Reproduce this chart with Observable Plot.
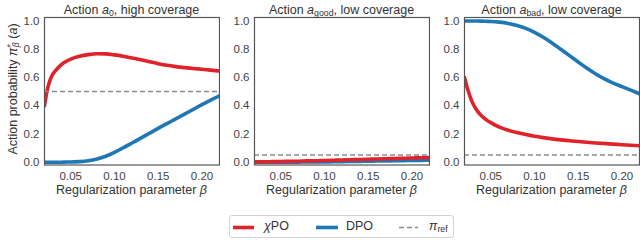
<!DOCTYPE html>
<html><head><meta charset="utf-8">
<script src="https://cdn.jsdelivr.net/npm/d3@7"></script>
<script src="https://cdn.jsdelivr.net/npm/@observablehq/plot@0.6"></script>
<style>
body{margin:0;background:#fff;}
#root{position:relative;width:640px;height:240px;font-family:"Liberation Sans",Arial,sans-serif;color:#333;overflow:hidden;}
.title{position:absolute;top:3px;width:175px;text-align:center;font-size:12.5px;line-height:14px;color:#333;white-space:nowrap;}
.xlab{position:absolute;top:184px;width:175px;text-align:center;font-size:12.5px;line-height:13px;color:#333;white-space:nowrap;}
.plot{position:absolute;top:0;}
sub{font-size:70%;vertical-align:-0.25em;line-height:0;}
sup{font-size:70%;vertical-align:0.5em;line-height:0;}
#ylab{position:absolute;left:-62px;top:82px;width:150px;text-align:center;font-size:12.5px;line-height:14px;transform:rotate(-90deg);white-space:nowrap;color:#333;}
#legend{position:absolute;left:229px;top:215px;width:225px;height:23px;border:1px solid #d4d4d4;border-radius:3px;box-sizing:border-box;font-size:12.5px;color:#333;}
#legend span{position:absolute;top:3px;line-height:14px;}
#legend svg{position:absolute;top:0;left:0;}
</style></head>
<body>
<div id="root"></div>
<script>
const beta = [0.02,0.0225,0.025,0.0275,0.03,0.035,0.04,0.045,0.05,0.06,0.07,0.08,0.09,0.10,0.11,0.12,0.13,0.14,0.15,0.16,0.17,0.18,0.19,0.20,0.21,0.22];
const chiHigh = [0.40,0.49,0.555,0.60,0.628,0.665,0.695,0.715,0.73,0.75,0.762,0.768,0.767,0.76,0.75,0.738,0.726,0.712,0.698,0.686,0.677,0.67,0.664,0.658,0.652,0.646];
const dpoHigh = [0,0,0,0,0,0,0,0.001,0.001,0.004,0.01,0.022,0.042,0.07,0.102,0.136,0.17,0.205,0.24,0.273,0.307,0.34,0.374,0.408,0.44,0.47];
const chiGood = [0.002,0.002,0.002,0.003,0.003,0.003,0.004,0.004,0.005,0.006,0.007,0.009,0.010,0.012,0.014,0.015,0.017,0.019,0.021,0.022,0.024,0.026,0.028,0.030,0.031,0.033];
const dpoGood = [0,0,0,0,0,0,0,0,0,0,0.0005,0.001,0.0015,0.002,0.003,0.004,0.005,0.006,0.007,0.008,0.009,0.010,0.011,0.012,0.013,0.014];
const chiBad = [0.60,0.54,0.49,0.445,0.41,0.36,0.325,0.30,0.28,0.248,0.226,0.21,0.196,0.184,0.174,0.165,0.158,0.152,0.146,0.141,0.136,0.132,0.128,0.124,0.12,0.116];
const dpoBad = [1,1,1,1,1,1,0.999,0.998,0.997,0.992,0.983,0.968,0.948,0.92,0.885,0.845,0.8,0.755,0.71,0.665,0.625,0.59,0.56,0.535,0.51,0.485];
const piRef = [0.5, 0.05, 0.05];
const panelTitles = ['Action <i>a</i><sub>0</sub>, high coverage','Action <i>a</i><sub>good</sub>, low coverage','Action <i>a</i><sub>bad</sub>, low coverage'];
const xTicks = [0.05,0.10,0.15,0.20];
const yTicks = [0,0.2,0.4,0.6,0.8,1.0];
const seriesNames = ['χPO','DPO'];

const RED = '#e0232b', BLUE = '#1f77b4', GREY = '#8c8c8c';
const panels = [[chiHigh,dpoHigh],[chiGood,dpoGood],[chiBad,dpoBad]];
const root = document.getElementById('root');

panels.forEach(([chi,dpo],i)=>{
  const rows = [];
  beta.forEach((b,j)=>{rows.push({b,v:dpo[j],s:'DPO'});});
  beta.forEach((b,j)=>{rows.push({b,v:chi[j],s:'χPO'});});
  const svg = Plot.plot({
    width:220, height:184,
    marginLeft:44, marginRight:1, marginTop:17, marginBottom:19.5,
    style:{fontSize:'11.5px',fontFamily:'"Liberation Sans",Arial,sans-serif',color:'#444',background:'transparent'},
    x:{domain:[0.02,0.22],ticks:xTicks,tickFormat:d3.format('.2f'),tickSize:0,tickPadding:7,label:null},
    y:{domain:[-0.02,1.025],ticks:yTicks,tickFormat:d3.format('.1f'),tickSize:0,tickPadding:5,label:null},
    marks:[
      Plot.line(rows.filter(r=>r.s==='DPO'),{x:'b',y:'v',stroke:BLUE,strokeWidth:3.6,curve:'monotone-x',clip:true}),
      Plot.line(rows.filter(r=>r.s==='χPO'),{x:'b',y:'v',stroke:RED,strokeWidth:3.6,curve:'monotone-x',clip:true}),
      Plot.ruleY([piRef[i]],{stroke:GREY,strokeWidth:1.5,strokeDasharray:'5,3'}),
      Plot.frame({stroke:'#555',strokeWidth:1.2})
    ]
  });
  svg.classList.add('plot');
  svg.style.left = (i*210)+'px';
  root.appendChild(svg);
  const t = document.createElement('div');
  t.className='title'; t.style.left=(44+i*210)+'px'; t.innerHTML=panelTitles[i];
  root.appendChild(t);
  const xl = document.createElement('div');
  xl.className='xlab'; xl.style.left=(44+i*210)+'px'; xl.innerHTML='Regularization parameter <i>β</i>';
  root.appendChild(xl);
});

const yl = document.createElement('div');
yl.id='ylab';
yl.innerHTML='Action probability <i>π</i><sup>*</sup><sub style="margin-left:-0.35em"><i>β</i></sub> (<i>a</i>)';
root.appendChild(yl);

const lg = document.createElement('div');
lg.id='legend';
lg.innerHTML = `<svg width="225" height="23">
<line x1="3" x2="24" y1="11.5" y2="11.5" stroke="${RED}" stroke-width="3.6"/>
<line x1="86" x2="108" y1="11.5" y2="11.5" stroke="${BLUE}" stroke-width="3.6"/>
<line x1="169" x2="188" y1="11.5" y2="11.5" stroke="${GREY}" stroke-width="1.5" stroke-dasharray="5,3"/>
</svg>
<span style="left:34px"><i>χ</i>PO</span>
<span style="left:116px">${seriesNames[1]}</span>
<span style="left:199px"><i>π</i><sub>ref</sub></span>`;
root.appendChild(lg);
</script>
</body></html>
